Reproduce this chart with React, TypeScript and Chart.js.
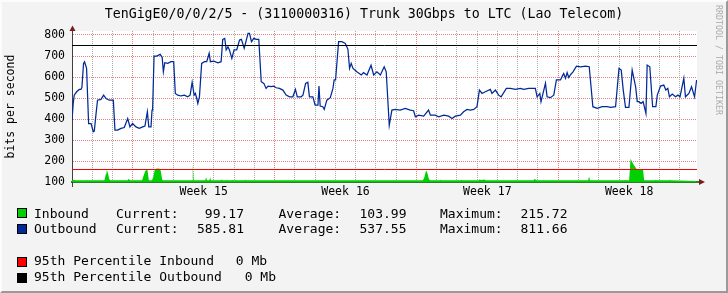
import React, { useEffect, useRef } from 'react';
import { Chart, registerables } from 'chart.js';

Chart.register(...registerables);

// ---- text ----
const TITLE = 'TenGigE0/0/0/2/5 - (3110000316) Trunk 30Gbps to LTC (Lao Telecom)';
const Y_TITLE = 'bits per second';
const WATERMARK = 'RRDTOOL / TOBI OETIKER';

// ---- axes ----
const xMin = 0;
const xMax = 30.85; // days shown
const weekLabels = ['Week 15', 'Week 16', 'Week 17', 'Week 18'];
const weekLabelDays = [6.5, 13.5, 20.5, 27.5];
const weekStartDays = [3, 10, 17, 24];
const yMin = 100;
const yMax = 819;
const yTickValues = [100, 150, 200, 250, 300, 350, 400, 450, 500, 550, 600, 650, 700, 750, 800];

// ---- outbound (blue line) ----
const outDays = [
  0.00, 0.06, 0.11, 0.23, 0.36, 0.44, 0.49, 0.57, 0.62, 0.72,
  0.82, 0.94, 1.05, 1.10, 1.18, 1.26, 1.43, 1.56, 1.68, 1.84,
  2.04, 2.12, 2.25, 2.42, 2.58, 2.75, 2.86, 2.99, 3.16, 3.32,
  3.49, 3.60, 3.72, 3.79, 3.90, 3.95, 3.98, 4.05, 4.18, 4.35,
  4.45, 4.51, 4.58, 4.73, 4.89, 5.02, 5.10, 5.22, 5.38, 5.55,
  5.71, 5.83, 5.93, 6.03, 6.09, 6.16, 6.21, 6.29, 6.40, 6.54,
  6.65, 6.77, 6.83, 7.00, 7.20, 7.36, 7.44, 7.54, 7.61, 7.70,
  7.77, 7.89, 8.00, 8.13, 8.27, 8.36, 8.50, 8.69, 8.76, 8.86,
  8.97, 9.09, 9.22, 9.34, 9.47, 9.58, 9.68, 9.83, 9.95, 10.08,
  10.24, 10.41, 10.57, 10.74, 10.90, 11.03, 11.12, 11.31, 11.40, 11.53,
  11.64, 11.72, 11.89, 12.00, 12.14, 12.19, 12.25, 12.38, 12.45, 12.58,
  12.75, 12.88, 12.94, 13.01, 13.16, 13.32, 13.49, 13.62, 13.70, 13.78,
  13.87, 14.06, 14.28, 14.39,
  14.56, 14.76, 14.89, 15.05, 15.22, 15.41, 15.51, 15.66, 15.79, 15.96,
  16.20, 16.45, 16.70, 16.86, 16.95, 17.11, 17.36, 17.60, 17.69, 17.93,
  18.10, 18.35, 18.59, 18.76, 18.92, 19.17, 19.33, 19.50, 19.66, 19.83,
  19.99, 20.11, 20.24, 20.40, 20.65, 20.73, 20.90, 21.06, 21.18, 21.44,
  21.64, 21.89, 22.13, 22.30, 22.54, 22.87, 22.96, 23.09, 23.15, 23.25,
  23.37, 23.45, 23.61, 23.78, 23.91, 24.11, 24.19, 24.27, 24.36, 24.44,
  24.52, 24.60, 24.73, 24.90, 25.10, 25.34, 25.53, 25.71, 25.92, 26.17,
  26.42, 26.58, 26.83, 27.00, 27.11, 27.21, 27.32, 27.49, 27.65, 27.82,
  27.90, 27.98, 28.09, 28.19, 28.33, 28.39, 28.52, 28.66, 28.82, 28.89,
  29.05, 29.21, 29.31, 29.41, 29.49, 29.63, 29.79, 29.91, 30.01, 30.20,
  30.28, 30.45, 30.58, 30.73, 30.83,
];
const outValues = [
  395, 475, 514, 530, 541, 541, 551, 665, 673, 641,
  379, 379, 340, 343, 419, 490, 494, 514, 498, 490,
  490, 348, 348, 356, 360, 403, 363, 379, 363, 356,
  363, 367, 435, 363, 363, 443, 451, 700, 700, 708,
  694, 625, 668, 665, 673, 673, 522, 514, 510, 514,
  506, 514, 575, 514, 522, 498, 475, 506, 665, 673,
  673, 713, 673, 676, 668, 673, 779, 784, 729, 744,
  729, 689, 729, 729, 776, 779, 737, 808, 808, 768,
  784, 779, 779, 578, 570, 546, 557, 554, 557, 549,
  546, 538, 514, 506, 506, 541, 506, 506, 514, 570,
  575, 506, 506, 467, 467, 557, 462, 459, 446, 490,
  502, 546, 586, 586, 768, 768, 760, 732, 641, 665,
  641, 625, 610, 621,
  610, 656, 610, 625, 610, 649, 625, 371, 443, 446,
  443, 451, 443, 440, 411, 419, 414, 443, 419, 419,
  411, 419, 414, 403, 414, 419, 435, 446, 443, 446,
  459, 538, 522, 530, 541, 522, 538, 514, 506, 546,
  546, 541, 546, 541, 546, 546, 506, 522, 483, 522,
  570, 506, 502, 514, 586, 586, 602, 617, 594, 621,
  598, 610, 625, 652, 649, 652, 649, 459, 451, 459,
  459, 456, 459, 641, 633, 538, 456, 456, 633, 554,
  483, 483, 475, 483, 427, 657, 649, 459, 459, 514,
  557, 562, 538, 546, 506, 519, 506, 514, 506, 594,
  506, 522, 554, 506, 586,
];

// ---- inbound (green area) ----
const inDays = [
  0, 0.10, 0.14, 0.70, 0.73, 0.76, 1.60, 1.68, 1.71, 1.78, 1.84, 1.89,
  2.75, 2.80, 2.86, 3.46, 3.52, 3.62, 3.72, 3.75, 3.79,
  3.95, 4.02, 4.08, 4.18, 4.31, 4.38, 4.45, 4.48,
  5.93, 5.96, 6.00, 6.58, 6.62, 6.66, 6.78, 6.82, 6.86,
  7.34, 7.36, 7.40, 7.62, 7.64, 7.68, 7.91, 7.93, 7.97, 8.54, 8.56, 8.60,
  17.32, 17.39, 17.46, 17.49, 17.55, 17.62, 17.69,
  18.18, 18.20, 18.24, 19.18, 19.20, 19.24, 20.08, 20.10, 20.20, 20.35, 20.42,
  22.78, 22.84, 22.90, 22.95, 25.48, 25.52, 25.57, 27.28, 27.30, 27.34,
  27.50, 27.57, 27.70, 27.87, 28.19, 28.24, 28.78, 28.80, 28.84, 29.48, 29.50, 29.54, 30.83,
];
const inValues = [
  109, 112, 109, 109, 112, 109, 109, 141, 160, 141, 114, 109,
  109, 117, 109, 109, 127, 154, 160, 141, 109,
  109, 127, 157, 165, 165, 154, 114, 109,
  109, 186, 109, 109, 124, 109, 109, 124, 109,
  109, 113, 109, 109, 113, 109, 109, 112, 109, 109, 113, 109,
  109, 122, 150, 156, 140, 114, 109,
  109, 113, 109, 109, 113, 109, 109, 113, 110, 113, 109,
  109, 116, 111, 109, 109, 127, 109, 109, 112, 109,
  109, 211, 187, 163, 158, 109, 109, 113, 109, 109, 113, 109, 106,
];

// ---- 95th percentile rules ----
const pct95Inbound = 160;
const pct95Outbound = 750;

// ---- legend ----
const seriesNames = ['Inbound', 'Outbound'];
const currentVals = ['99.17', '585.81'];
const averageVals = ['103.99', '537.55'];
const maximumVals = ['215.72', '811.66'];
const pctNames = ['95th Percentile Inbound', '95th Percentile Outbound'];
const pctVals = ['0 Mb', '0 Mb'];

const GREEN = '#00CF00';
const BLUE = '#002A97';
const RED = '#FF0000';
const BLACK = '#000000';
const MONO = "'DejaVu Sans Mono', monospace";
const MAJOR_GRID = '#E98080';
const MINOR_GRID = '#ABABAB';

const xTickValues = [
  ...Array.from({ length: 30 }, (_, i) => i + 1),
  ...weekLabelDays,
].sort((a, b) => a - b);

const decorPlugin = {
  id: 'rrdDecor',
  beforeDraw(chart: any) {
    const { ctx, chartArea: a } = chart;
    ctx.save();
    ctx.fillStyle = '#FFFFFF';
    ctx.fillRect(a.left, a.top, a.right - a.left, a.bottom - a.top);
    ctx.restore();
  },
  beforeDatasetsDraw(chart: any) {
    // dotted grid (1px on / 1px off), positioned through the chart's scales
    const { ctx, chartArea: a, scales } = chart;
    const top = Math.ceil(a.top);
    const bottom = Math.floor(a.bottom) - 1;
    const left = Math.ceil(a.left) + 1;
    const right = Math.floor(a.right);
    ctx.save();
    for (const t of scales.x.ticks) {
      const v = t.value;
      if (weekLabelDays.includes(v)) continue;
      const px = Math.round(scales.x.getPixelForValue(v) - 0.5);
      ctx.fillStyle = weekStartDays.includes(v) ? MAJOR_GRID : MINOR_GRID;
      for (let y = top; y < bottom; y += 2) ctx.fillRect(px, y, 1, 1);
    }
    for (const t of scales.y.ticks) {
      const v = t.value;
      if (v === yMin) continue;
      const py = Math.round(scales.y.getPixelForValue(v) - 0.5);
      ctx.fillStyle = v % 100 === 0 ? MAJOR_GRID : MINOR_GRID;
      for (let x = left; x < right; x += 2) ctx.fillRect(x, py, 1, 1);
    }
    ctx.restore();
  },
  afterDatasetsDraw(chart: any) {
    // 95th percentile horizontal rules (HRULE), placed through the y scale
    const { ctx, chartArea: a, scales } = chart;
    const rules: [number, string][] = [
      [pct95Inbound, RED],
      [pct95Outbound, BLACK],
    ];
    ctx.save();
    ctx.lineWidth = 1;
    for (const [v, c] of rules) {
      const y = Math.floor(scales.y.getPixelForValue(v)) + 0.5;
      ctx.strokeStyle = c;
      ctx.beginPath();
      ctx.moveTo(a.left, y);
      ctx.lineTo(a.right, y);
      ctx.stroke();
    }
    ctx.restore();
  },
  afterDraw(chart: any) {
    const { ctx, chartArea: a } = chart;
    const ax = 72.5;
    const ay = Math.round(a.bottom);
    ctx.save();
    ctx.strokeStyle = '#404040';
    ctx.lineWidth = 1;
    ctx.beginPath();
    ctx.moveTo(ax, a.top);
    ctx.lineTo(ax, 28);
    ctx.moveTo(ax, a.bottom);
    ctx.lineTo(ax, 187);
    ctx.stroke();
    ctx.strokeStyle = '#2b7d2b';
    ctx.lineWidth = 2;
    ctx.beginPath();
    ctx.moveTo(a.right, ay);
    ctx.lineTo(701, ay);
    ctx.stroke();
    ctx.fillStyle = '#7a1c1c';
    ctx.beginPath();
    ctx.moveTo(69.5, 31);
    ctx.lineTo(75.5, 31);
    ctx.lineTo(72.5, 25.5);
    ctx.closePath();
    ctx.fill();
    ctx.beginPath();
    ctx.moveTo(699, ay - 3);
    ctx.lineTo(699, ay + 3);
    ctx.lineTo(705, ay);
    ctx.closePath();
    ctx.fill();
    ctx.restore();
  },
};

function ChartCanvas() {
  const ref = useRef<HTMLCanvasElement | null>(null);
  useEffect(() => {
    if (!ref.current) return;
    const chart = new Chart(ref.current, {
      type: 'line',
      data: {
        datasets: [
          {
            label: 'Outbound',
            data: outDays.map((d, i) => ({ x: d, y: outValues[i] })),
            borderColor: BLUE,
            borderWidth: 1.25,
            pointRadius: 0,
            fill: false,
            tension: 0,
            order: 1,
          },
          {
            label: 'Inbound',
            data: inDays.map((d, i) => ({ x: d, y: inValues[i] })),
            borderColor: GREEN,
            borderWidth: 0,
            backgroundColor: GREEN,
            pointRadius: 0,
            fill: { value: yMin },
            tension: 0,
            order: 2,
          },
        ],
      },
      options: {
        animation: false,
        responsive: false,
        maintainAspectRatio: false,
        events: [],
        layout: { padding: { left: 0, top: 31, right: 31, bottom: 90.8 } },
        plugins: {
          legend: { display: false },
          tooltip: { enabled: false },
          title: { display: false },
        },
        scales: {
          x: {
            type: 'linear',
            min: xMin,
            max: xMax,
            afterBuildTicks: (axis: any) => {
              axis.ticks = xTickValues.map((v) => ({ value: v }));
            },
            afterFit: (axis: any) => {
              axis.height = 20;
            },
            ticks: {
              autoSkip: false,
              maxRotation: 0,
              minRotation: 0,
              padding: 3,
              color: '#000',
              font: { family: MONO, size: 11.5 },
              callback: (v: any) => {
                const i = weekLabelDays.indexOf(Number(v));
                return i >= 0 ? weekLabels[i] : '';
              },
            },
            grid: { display: false, drawTicks: false },
            border: { display: true, color: '#2b7d2b', width: 2 },
          },
          y: {
            type: 'linear',
            min: yMin,
            max: yMax,
            afterBuildTicks: (axis: any) => {
              axis.ticks = yTickValues.map((v) => ({ value: v }));
            },
            afterFit: (axis: any) => {
              axis.width = 72;
            },
            ticks: {
              padding: 7,
              color: '#000',
              font: { family: MONO, size: 11.5 },
              callback: (v: any) => (Number(v) % 100 === 0 ? String(v) : ''),
            },
            grid: { display: false, drawTicks: false },
            border: { display: true, color: '#404040', width: 1 },
            title: {
              display: true,
              text: Y_TITLE,
              color: '#000',
              font: { family: MONO, size: 11.5 },
              padding: { top: 4, bottom: 0 },
            },
          },
        },
      },
      plugins: [decorPlugin],
    } as any);
    return () => chart.destroy();
  }, []);
  return (
    <canvas
      ref={ref}
      width={728}
      height={293}
      style={{ position: 'absolute', left: 0, top: 0, width: 728, height: 293, display: 'block' }}
    />
  );
}

const textBase: React.CSSProperties = {
  position: 'absolute',
  fontFamily: MONO,
  fontSize: 13,
  lineHeight: '15px',
  whiteSpace: 'pre',
  color: '#000',
};

function T({ left, top, children, right }: { left?: number; top: number; children: React.ReactNode; right?: number }) {
  if (right !== undefined) {
    return (
      <div style={{ ...textBase, left: right - 120, width: 120, textAlign: 'right', top }}>{children}</div>
    );
  }
  return <div style={{ ...textBase, left, top }}>{children}</div>;
}

function Swatch({ top, color }: { top: number; color: string }) {
  return (
    <div
      style={{
        position: 'absolute',
        left: 17,
        top,
        width: 8,
        height: 8,
        background: color,
        border: '1px solid #000',
      }}
    />
  );
}

export default function App() {
  const rowTops = [205.7, 220.7];
  const swTops = [208, 224];
  const pctTops = [253.4, 269];
  const pctSwTops = [257, 273];
  const pctValLeft = [235.8, 244.7];
  return (
    <div
      style={{
        position: 'fixed',
        left: 0,
        top: 0,
        width: 728,
        height: 293,
        background: '#F3F3F3',
        overflow: 'hidden',
      }}
    >
      <ChartCanvas />
      <div
        style={{
          position: 'absolute',
          left: 0,
          top: 6.4,
          width: 728,
          textAlign: 'center',
          fontFamily: MONO,
          fontSize: 13.25,
          lineHeight: '16px',
          whiteSpace: 'pre',
          color: '#000',
        }}
      >
        {TITLE}
      </div>
      <div
        style={{
          position: 'absolute',
          left: 724,
          top: 5,
          transformOrigin: '0 0',
          transform: 'rotate(90deg)',
          fontFamily: MONO,
          fontSize: 8.3,
          lineHeight: '10px',
          whiteSpace: 'pre',
          color: '#ABABAB',
        }}
      >
        {WATERMARK}
      </div>
      {seriesNames.map((name, i) => (
        <React.Fragment key={name}>
          <Swatch top={swTops[i]} color={i === 0 ? GREEN : BLUE} />
          <T left={34} top={rowTops[i]}>{name}</T>
          <T left={116} top={rowTops[i]}>Current:</T>
          <T right={244} top={rowTops[i]}>{currentVals[i]}</T>
          <T left={278.5} top={rowTops[i]}>Average:</T>
          <T right={406.5} top={rowTops[i]}>{averageVals[i]}</T>
          <T left={440} top={rowTops[i]}>Maximum:</T>
          <T right={567.5} top={rowTops[i]}>{maximumVals[i]}</T>
        </React.Fragment>
      ))}
      {pctNames.map((name, i) => (
        <React.Fragment key={name}>
          <Swatch top={pctSwTops[i]} color={i === 0 ? RED : BLACK} />
          <T left={34} top={pctTops[i]}>{name}</T>
          <T left={pctValLeft[i]} top={pctTops[i]}>{pctVals[i]}</T>
        </React.Fragment>
      ))}
      <div
        style={{
          position: 'absolute',
          inset: 0,
          boxSizing: 'border-box',
          borderTop: '2px solid #FCFCFC',
          borderLeft: '2px solid #FCFCFC',
          borderRight: '2px solid #9A9A9A',
          borderBottom: '2px solid #9A9A9A',
          pointerEvents: 'none',
        }}
      />
    </div>
  );
}
